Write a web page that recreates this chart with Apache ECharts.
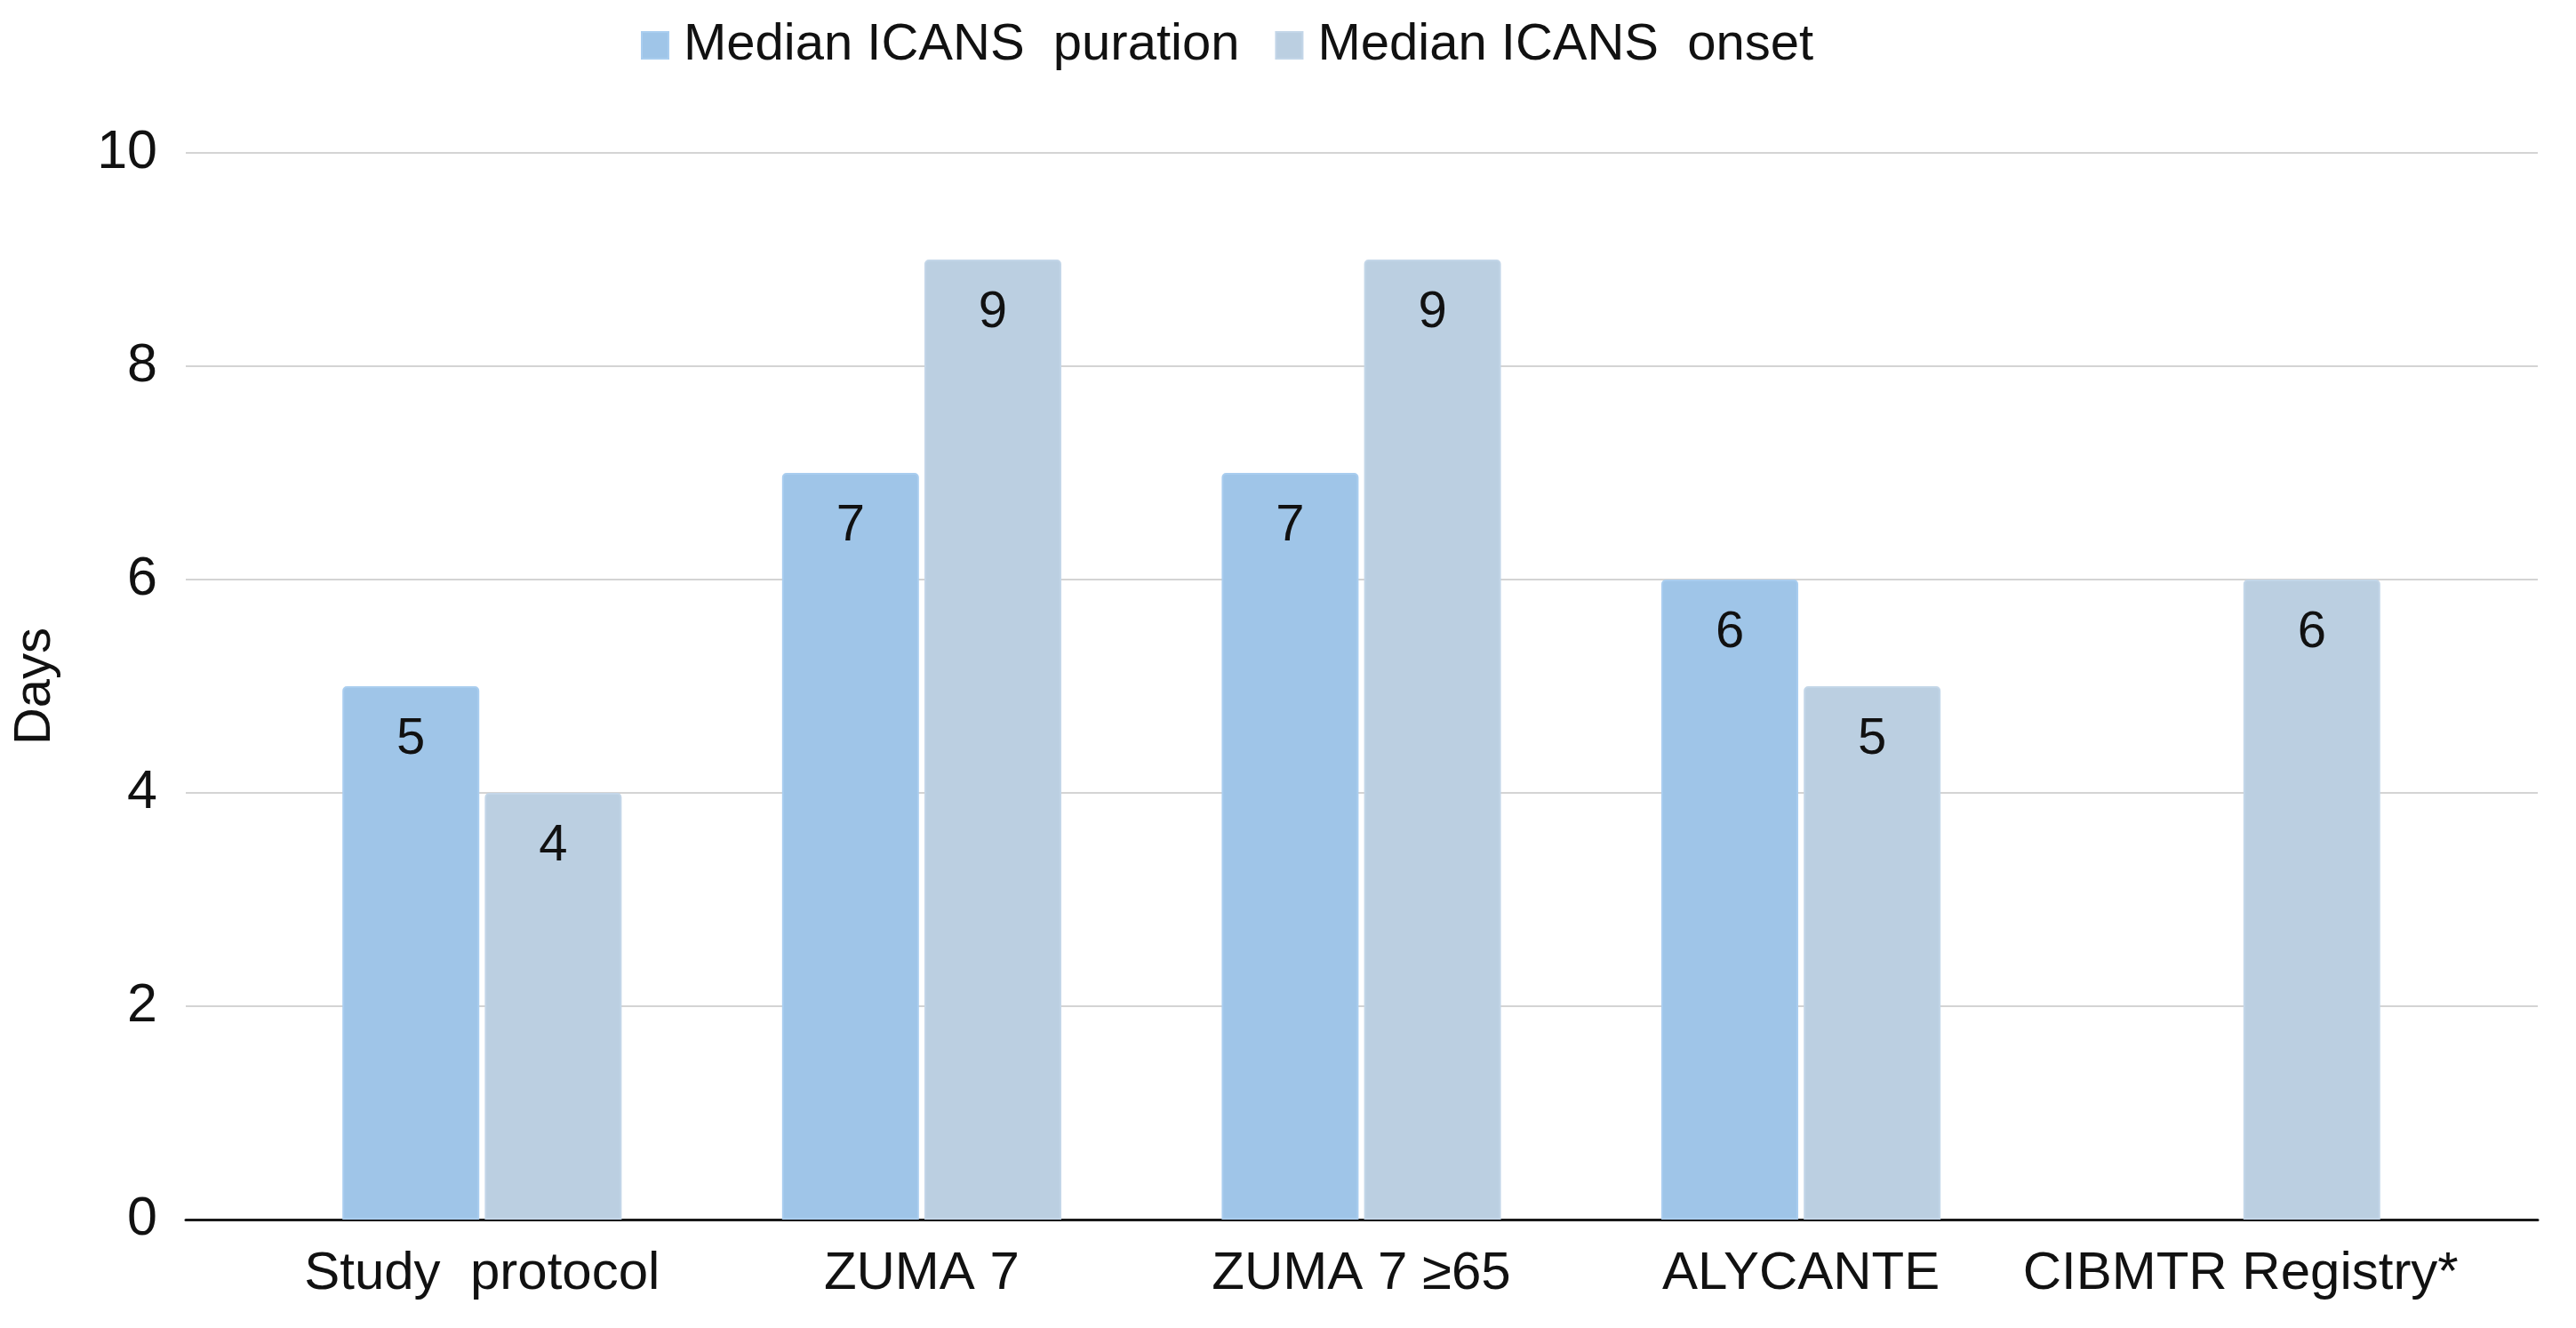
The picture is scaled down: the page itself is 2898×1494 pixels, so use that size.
<!DOCTYPE html>
<html>
<head>
<meta charset="utf-8">
<style>
  html, body { margin: 0; padding: 0; background: #fff; }
  #main { width: 2898px; height: 1494px; }
</style>
<script src="https://cdn.jsdelivr.net/npm/echarts@6/dist/echarts.min.js"></script>
</head>
<body>
<div id="main"></div>
<script>
var categories = ["Study  protocol", "ZUMA 7", "ZUMA 7 \u226565", "ALYCANTE", "CIBMTR Registry*"];
var seriesNames = ["Median ICANS  puration", "Median ICANS  onset"];
var durationDays = [5, 7, 7, 6, null];
var onsetDays = [4, 9, 9, 5, 6];
var yTicks = { min: 0, max: 10, interval: 2 };

var font = "Liberation Sans, Arial, sans-serif";

var dom = document.getElementById("main");
var myChart = echarts.init(dom, null, { renderer: "canvas" });

var barLabel = {
  show: true,
  position: "insideTop",
  distance: 31,
  fontFamily: font,
  fontSize: 58,
  color: "#111",
};

var option = {
  backgroundColor: "#fff",
  animation: false,
  legend: {
    left: 716,
    top: 17,
    itemWidth: 30,
    itemHeight: 30,
    itemGap: 40,
    icon: "rect",
    textStyle: {
      fontFamily: font,
      fontSize: 58,
      color: "#111",
      padding: [0, 0, 0, 12],
    },
    data: seriesNames,
  },
  grid: [
    // background grid: gridlines, y labels, baseline
    { left: 209, right: 43, top: 172, bottom: 122 },
    // bar grid: narrower category band
    { left: 295, right: 130, top: 172, bottom: 122 },
  ],
  xAxis: [
    {
      gridIndex: 0,
      type: "value",
      min: 0,
      max: 1,
      axisLine: { show: true, onZero: false, lineStyle: { color: "#1a1a1a", width: 3 } },
      axisTick: { show: false },
      axisLabel: { show: false },
      splitLine: { show: false },
    },
    {
      gridIndex: 1,
      type: "category",
      data: categories,
      axisLine: { show: false },
      axisTick: { show: false },
      axisLabel: {
        margin: 31,
        fontFamily: font,
        fontSize: 60,
        color: "#111",
        interval: 0,
      },
    },
  ],
  yAxis: [
    {
      gridIndex: 0,
      type: "value",
      min: yTicks.min,
      max: yTicks.max,
      interval: yTicks.interval,
      name: "Days",
      nameLocation: "middle",
      nameGap: 140,
      nameTextStyle: { fontFamily: font, fontSize: 58, color: "#111" },
      axisLine: { show: false },
      axisTick: { show: false },
      axisLabel: { margin: 32, fontFamily: font, fontSize: 61, color: "#111" },
      splitLine: { lineStyle: { color: "#d4d4d4", width: 2 } },
    },
    {
      gridIndex: 1,
      type: "value",
      min: yTicks.min,
      max: yTicks.max,
      interval: yTicks.interval,
      show: false,
      splitLine: { show: false },
    },
  ],
  series: [
    {
      name: seriesNames[0],
      type: "bar",
      xAxisIndex: 1,
      yAxisIndex: 1,
      data: durationDays,
      barWidth: 154,
      barGap: "4%",
      itemStyle: {
        color: "#9fc5e8",
        borderColor: "#a9cdef",
        borderWidth: 2,
        borderRadius: [4, 4, 0, 0],
      },
      label: barLabel,
    },
    {
      name: seriesNames[1],
      type: "bar",
      xAxisIndex: 1,
      yAxisIndex: 1,
      data: onsetDays,
      barWidth: 154,
      barGap: "4%",
      itemStyle: {
        color: "#bbcfe1",
        borderColor: "#c3d6e8",
        borderWidth: 2,
        borderRadius: [4, 4, 0, 0],
      },
      label: barLabel,
    },
  ],
};

if (option && typeof option === "object") {
  myChart.setOption(option);
}

window.addEventListener("resize", myChart.resize);
</script>
</body>
</html>
